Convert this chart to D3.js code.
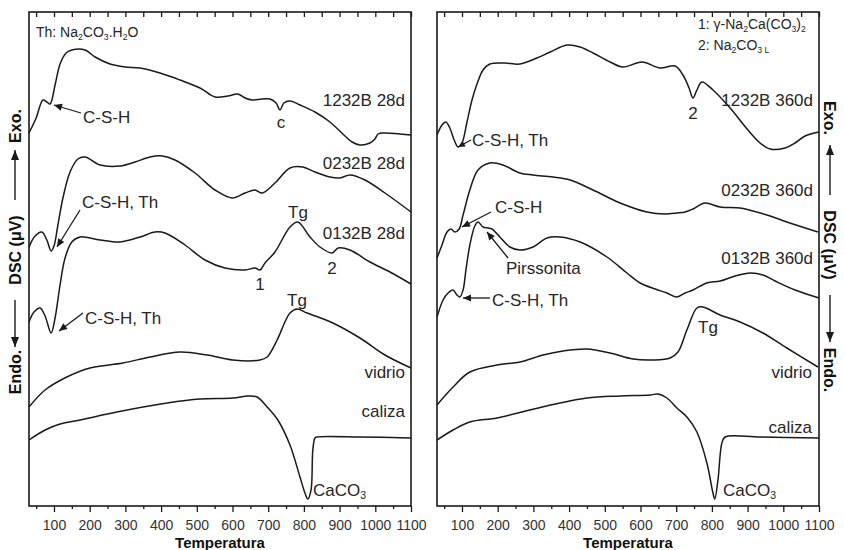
<!DOCTYPE html>
<html><head><meta charset="utf-8">
<script src="https://cdn.jsdelivr.net/npm/d3@7"></script>
<style>
body{margin:0;background:#fff}
svg{display:block}
text{font-family:"Liberation Sans",Arial,Helvetica,sans-serif;fill:#262626}
</style>
</head><body>
<svg id="c" width="844" height="550"></svg>
<script>
// ---------- DATA (temperature °C, DSC signal in arbitrary offset units) ----------
const majorTicks = [100,200,300,400,500,600,700,800,900,1000,1100];
const minorTicks = [50,150,250,350,450,550,650,750,850,950,1050];
const xLabel = "Temperatura";

// Left panel – 28 days
const s1232B28dT = [30,50,69,80,89,103,117,134,150,187,215,257,299,341,397,453,509,551,587,615,635,655,683,705,722,733,744,761,789,831,873,915,935,957,985,999,1008,1024,1100];
const s1232B28dV = [373,388,406,404,402,421,442,453,456,456,449,442,439,438,433,426,418,409,410,412,408,406,407,407,403,396,403,405,401,394,384,370,364,361,363,367,372,373,371];

const s0232B28dT = [30,47,66,80,92,100,111,125,145,167,187,229,285,327,369,403,439,495,551,599,635,663,683,719,761,797,831,873,901,929,971,1027,1100];
const s0232B28dV = [259,270,274,266,255,260,281,308,334,347,349,341,340,344,349,350,346,333,316,308,313,316,313,323,338,339,334,329,328,331,326,313,294];

const s0132B28dT = [30,44,61,75,92,103,117,131,150,173,229,285,341,383,411,467,523,579,635,663,677,691,719,761,783,817,845,879,896,929,985,1041,1100];
const s0132B28dV = [184,194,198,190,173,188,221,248,264,269,266,264,269,274,273,261,246,238,236,238,236,243,254,279,284,269,259,253,258,256,244,234,222];

const vidrioLT = [30,75,136,201,293,369,453,529,601,677,697,725,747,761,781,809,881,957,1027,1100];
const vidrioLV = [99,116,129,138,143,149,154,151,146,146,149,166,184,193,197,193,183,168,151,138];

const calizaLT = [30,75,117,173,276,417,509,601,643,669,697,727,761,789,803,811,820,825,831,837,957,1100];
const calizaLV = [66,76,82,86,94,103,107,108,110,109,99,86,61,29,13,7,16,56,68,69,69,68];

// Right panel – 360 days
const s1232B360dT = [30,44,55,66,78,89,100,114,128,142,159,178,220,262,310,347,394,431,467,515,551,604,655,697,719,736,747,758,772,803,851,901,935,963,1005,1033,1061,1100];
const s1232B360dV = [371,381,384,378,366,359,363,384,406,422,436,442,443,442,448,454,461,459,453,444,439,444,438,440,431,418,408,416,424,416,398,376,363,357,358,363,370,374];

const s0232B360dT = [30,44,58,69,80,92,103,122,145,178,215,262,299,355,403,467,543,618,669,702,725,747,781,823,879,915,963,1010,1097];
const s0232B360dV = [248,261,274,277,274,277,291,316,336,343,341,333,331,329,326,316,303,294,292,293,294,297,303,299,298,295,290,284,274];

const s0132B360dT = [30,47,61,75,86,94,103,111,122,136,145,159,173,184,206,234,262,299,338,374,431,506,562,599,641,674,702,725,747,786,823,865,907,943,977,1033,1100];
const s0132B360dV = [189,206,213,216,211,209,216,236,261,280,284,279,278,277,269,259,256,259,268,269,264,249,233,223,217,213,209,213,216,223,225,230,233,231,225,216,208];

const vidrioRT = [30,75,122,198,262,327,383,450,515,579,635,683,705,730,758,775,823,879,943,1010,1097];
const vidrioRV = [101,119,134,141,144,151,155,157,153,147,146,148,154,176,198,199,191,184,173,158,139];

const calizaRT = [30,75,122,198,290,374,450,543,627,649,674,702,730,758,786,803,808,817,828,837,935,1100];
const calizaRV = [66,76,84,88,96,103,108,110,111,112,108,98,89,74,43,13,7,26,63,69,69,68];

// ---------- DRAWING ----------
const svg = d3.select("#c");
const top_ = 12, bottom = 506;
const panels = [
  {x0:29, x1:411, series:[[s1232B28dT,s1232B28dV],[s0232B28dT,s0232B28dV],[s0132B28dT,s0132B28dV],[vidrioLT,vidrioLV],[calizaLT,calizaLV]]},
  {x0:437, x1:819, series:[[s1232B360dT,s1232B360dV],[s0232B360dT,s0232B360dV],[s0132B360dT,s0132B360dV],[vidrioRT,vidrioRV],[calizaRT,calizaRV]]}
];
const y = d3.scaleLinear().domain([0,494]).range([bottom, top_]);
const ink = "#1a1a1a";

panels.forEach(p => {
  const x = d3.scaleLinear().domain([30,1100]).range([p.x0, p.x1]);
  p.x = x;
  const line = d3.line().x(d=>x(d[0])).y(d=>y(d[1])).curve(d3.curveCatmullRom.alpha(0.5));
  p.series.forEach(([T,V]) => {
    svg.append("path").attr("d", line(T.map((t,i)=>[t,V[i]])))
      .attr("fill","none").attr("stroke",ink).attr("stroke-width",1.5).attr("stroke-linejoin","round");
  });
  const gb = svg.append("g").attr("transform",`translate(0,${bottom})`)
    .call(d3.axisBottom(x).tickValues(majorTicks).tickSize(6).tickPadding(8).tickFormat(d3.format("d")));
  gb.select(".domain").remove();
  gb.selectAll("line").attr("stroke",ink).attr("stroke-width",1.3);
  gb.selectAll("text").attr("font-size",14).style("fill","#333").attr("font-family",null);
  const gbm = svg.append("g").attr("transform",`translate(0,${bottom})`)
    .call(d3.axisBottom(x).tickValues(minorTicks).tickSize(3).tickFormat(""));
  gbm.select(".domain").remove();
  gbm.selectAll("line").attr("stroke",ink).attr("stroke-width",1.3);
  const gt = svg.append("g").attr("transform",`translate(0,${top_})`)
    .call(d3.axisTop(x).tickValues(majorTicks.concat(minorTicks)).tickSize(-5).tickFormat(""));
  gt.select(".domain").remove();
  gt.selectAll("line").attr("stroke",ink).attr("stroke-width",1.3);
  svg.append("rect").attr("x",p.x0).attr("y",top_).attr("width",p.x1-p.x0).attr("height",bottom-top_)
    .attr("fill","none").attr("stroke",ink).attr("stroke-width",1.6);
  svg.append("text").attr("x",(p.x0+p.x1)/2).attr("y",548).attr("text-anchor","middle")
    .attr("font-size",15).attr("font-weight","bold").style("fill","#111").text(xLabel);
});

// ---------- annotations ----------
function label(x,yc,txt,anchor="start",size=17){
  return svg.append("text").attr("x",x).attr("y",yc).attr("dy","0.35em").attr("text-anchor",anchor)
    .attr("font-size",size).text(txt);
}
function rich(x,yc,parts,size){
  const t = svg.append("text").attr("x",x).attr("y",yc+size*0.35).attr("font-size",size);
  let shift = 0;
  parts.forEach(([s,sub]) => {
    const want = sub ? 3 : 0;
    t.append("tspan").attr("dy", want-shift).attr("font-size", sub? size*0.62 : size).text(s);
    shift = want;
  });
  return t;
}
function arrow(x1,y1,x2,y2,head=8,w=1.3){
  svg.append("line").attr("x1",x1).attr("y1",y1).attr("x2",x2).attr("y2",y2).attr("stroke",ink).attr("stroke-width",w);
  const a = Math.atan2(y2-y1,x2-x1), hw = head*0.45;
  const bx = x2-head*Math.cos(a), by = y2-head*Math.sin(a);
  const px = -Math.sin(a)*hw, py = Math.cos(a)*hw;
  svg.append("path").attr("d",`M${x2},${y2}L${bx+px},${by+py}L${bx-px},${by-py}Z`).attr("fill",ink);
}

// left panel
rich(36,32,[["Th: Na",0],["2",1],["CO",0],["3",1],[".H",0],["2",1],["O",0]],14);
label(405,100,"1232B 28d","end");
label(83,117,"C-S-H"); arrow(81,113,54,105);
label(281,122,"c","middle");
label(405,163,"0232B 28d","end");
label(82,202,"C-S-H, Th"); arrow(80,210,57,247);
label(298,212,"Tg","middle");
label(405,233,"0132B 28d","end");
label(332,268,"2","middle");
label(260,284,"1","middle");
label(297,300,"Tg","middle");
label(85,318,"C-S-H, Th"); arrow(83,313,59,331);
label(405,372,"vidrio","end");
label(405,411,"caliza","end");
rich(313,490,[["CaCO",0],["3",1]],17);

// right panel
rich(698,24,[["1: ",0],["γ",0],["-Na",0],["2",1],["Ca(CO",0],["3",1],[")",0],["2",1]],14);
rich(698,45,[["2: Na",0],["2",1],["CO",0],["3 L",1]],14);
label(813,100,"1232B 360d","end");
label(693,113,"2","middle");
label(472,140,"C-S-H, Th"); arrow(471,140,458,147,7);
label(813,190,"0232B 360d","end");
label(495,207,"C-S-H"); arrow(491,212,462,227);
label(813,258,"0132B 360d","end");
label(506,268,"Pirssonita"); arrow(508,258,487,232);
label(492,300,"C-S-H, Th"); arrow(490,298,463,298);
label(698,327,"Tg");
label(812,372,"vidrio","end");
label(812,427,"caliza","end");
rich(723,490,[["CaCO",0],["3",1]],17);

// y-axis titles
function yTitle(cx, rot, items){
  const g = svg.append("g").attr("transform",`translate(${cx},0)`);
  items.forEach(it => {
    if (it.t){
      g.append("text").attr("transform",`translate(0,${it.c}) rotate(${rot})`).attr("text-anchor","middle")
        .attr("dy","0.35em").attr("font-size",16).attr("font-weight","bold").style("fill","#111").text(it.t);
    } else {
      const [a,b] = it.a;
      g.append("line").attr("x1",0).attr("x2",0).attr("y1",a).attr("y2",b).attr("stroke",ink).attr("stroke-width",1.4);
      const d = b>a?1:-1;
      g.append("path").attr("d",`M0,${b}L-4,${b-d*10}L4,${b-d*10}Z`).attr("fill",ink);
    }
  });
}
yTitle(15,-90,[{t:"Exo.",c:126},{a:[200,150]},{t:"DSC (μV)",c:250},{a:[300,347]},{t:"Endo.",c:372}]);
yTitle(830,90,[{t:"Exo.",c:118},{a:[195,145]},{t:"DSC (μV)",c:245},{a:[295,342]},{t:"Endo.",c:370}]);
</script>
</body></html>
